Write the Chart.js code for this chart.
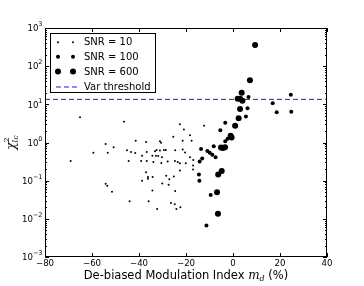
<!DOCTYPE html>
<html>
<head>
<meta charset="utf-8">
<script src="https://cdn.jsdelivr.net/npm/chart.js@4.4.1/dist/chart.umd.min.js"></script>
<style>
html,body{margin:0;padding:0;background:#fff;}
#wrap{width:364px;height:286px;}
</style>
</head>
<body>
<div id="wrap"><canvas id="chart" width="364" height="286"></canvas></div>
<script>
// values
const snr10X = [-69.1,-65.1,-59.4,-54.2,-53.3,-54.2,-53.5,-51.5,-50.8,-46.4,-45.1,-43.4,-41.6,-44.4,-44.0,
    -41.4,-38.7,-39.1,-38.7,-37.0,-36.7,-36.7,-37.0,-36.2,-36.2,-35.9,-34.3,-33.9,-34.2,-34.3,
    -33.2,-32.5,-32.8,-32.3,-31.1,-30.6,-31.1,-31.8,-30.2,-30.5,-30.1,-29.4,-28.6,-28.4,-27.8,
    -27.1,-27.4,-26.4,-25.4,-25.2,-24.8,-24.6,-24.7,-24.6,-24.1,-23.5,-22.6,-22.6,-22.6,-22.4,
    -21.4,-21.4,-20.9,-20.4,-20.1,-18.3,-17.6,-18.3,-16.9,-17.0,-17.0,-12.3];
const snr10Y = [0.33,4.6,0.54,0.91,0.54,0.083,0.074,0.051,0.75,3.5,0.63,0.56,0.53,0.33,0.029,
    1.11,0.45,0.33,0.10,1.03,0.56,0.33,0.166,0.125,0.113,0.029,0.45,0.31,0.125,0.055,
    0.59,0.64,0.45,0.018,1.08,0.99,0.62,0.44,0.41,0.29,0.084,0.64,0.64,0.135,0.32,
    0.109,0.078,0.026,1.42,0.129,0.024,0.63,0.33,0.054,0.018,0.31,3.0,0.285,0.185,0.020,
    1.11,0.66,2.2,0.55,0.285,1.55,1.11,0.41,0.35,0.25,0.196,2.76];

const snr100X = [-14.2,-13.6,-13.1,-10.9,-9.9,-8.8,-7.4,-8.2,-14.5,-14.3,-9.5,-11.3,-5.4,-3.3,-2.3,-3.3,
    16.9,24.6,18.6,24.8,6.6,6.2,5.5];
const snr100Y = [0.32,0.68,0.38,0.60,0.54,0.48,0.41,0.80,0.144,0.10,0.042,0.0067,2.09,3.3,1.26,1.08,
    10.6,17.9,6.2,6.4,15.6,7.9,4.8];

const snr600X = [9.4,7.2,3.7,2.0,3.0,4.0,3.0,2.4,0.9,-1.0,-0.6,-5.1,-4.3,-3.4,-4.8,-6.3,-6.8,-6.4];
const snr600Y = [359,43,20.2,14.1,14.1,12.4,7.5,4.3,2.76,1.51,1.35,0.74,0.72,0.75,0.18,0.144,0.05,0.0136];

const varThreshold = 13.5;
const xRange = [-80, 40];
const xTicks = [-80, -60, -40, -20, 0, 20, 40];
const yExponents = [-3, -2, -1, 0, 1, 2, 3];
const legendLabels = ["SNR = 10", "SNR = 100", "SNR = 600", "Var threshold"];

const FONT = "DejaVu Sans";
const BLUE = "#1a1aee";
const R_SMALL = 1.0, R_MED = 2.0, R_LARGE = 3.0;

function pts(xs, ys){
    return xs.map((x, i) => ({x: x, y: ys[i]}));
}

function minusSign(v){
    return v < 0 ? "\u2212" + Math.abs(v) : String(v);
}

// frame, inward ticks, log labels, axis titles and the legend
const decorations = {
    id: "decorations",
    afterDraw(chart){
        const ctx = chart.ctx;
        const a = chart.chartArea;
        const xs = chart.scales.x, ys = chart.scales.y;
        ctx.save();
        ctx.strokeStyle = "#000";
        ctx.lineWidth = 1;
        ctx.strokeRect(Math.round(a.left)+0.5, Math.round(a.top)+0.5,
            Math.round(a.right-a.left)-1, Math.round(a.bottom-a.top)-1);

        ctx.beginPath();
        xTicks.forEach(v => {
            const px = Math.round(xs.getPixelForValue(v)) + 0.5;
            ctx.moveTo(px, a.bottom); ctx.lineTo(px, a.bottom-4);
            ctx.moveTo(px, a.top); ctx.lineTo(px, a.top+4);
        });
        yExponents.forEach(e => {
            const py = Math.round(ys.getPixelForValue(Math.pow(10, e))) + 0.5;
            ctx.moveTo(a.left, py); ctx.lineTo(a.left+4, py);
            ctx.moveTo(a.right, py); ctx.lineTo(a.right-4, py);
            if(e < 3){
                for(let m = 2; m < 10; m++){
                    const my = Math.round(ys.getPixelForValue(m*Math.pow(10, e))) + 0.5;
                    ctx.moveTo(a.left, my); ctx.lineTo(a.left+2, my);
                    ctx.moveTo(a.right, my); ctx.lineTo(a.right-2, my);
                }
            }
        });
        ctx.stroke();

        // y tick labels 10^e
        ctx.fillStyle = "#000";
        ctx.textBaseline = "middle";
        ctx.textAlign = "left";
        yExponents.forEach(e => {
            const py = ys.getPixelForValue(Math.pow(10, e));
            const ex = minusSign(e);
            ctx.font = "6.5px " + FONT;
            const we = ctx.measureText(ex).width;
            ctx.font = "8.6px " + FONT;
            const wb = ctx.measureText("10").width;
            const right = a.left - 2.5;
            ctx.fillText("10", right - we - wb, py + 1);
            ctx.font = "6.5px " + FONT;
            ctx.fillText(ex, right - we, py - 3.5);
        });

        // x title
        const parts = [
            {t: "De-biased Modulation Index ", f: "11.5px " + FONT, dy: 0},
            {t: "m", f: "italic 12px DejaVu Serif", dy: 0},
            {t: "d", f: "italic 8px DejaVu Serif", dy: 2.5},
            {t: " (%)", f: "11.5px " + FONT, dy: 0}
        ];
        let total = 0;
        parts.forEach(p => { ctx.font = p.f; p.w = ctx.measureText(p.t).width; total += p.w; });
        let cx = (a.left + a.right)/2 - total/2;
        const ty = 276;
        parts.forEach(p => { ctx.font = p.f; ctx.fillText(p.t, cx, ty + p.dy); cx += p.w; });

        // y title chi^2_lc
        ctx.save();
        ctx.translate(12, (a.top + a.bottom)/2);
        ctx.rotate(-Math.PI/2);
        ctx.font = "italic 12px DejaVu Serif";
        const wc = ctx.measureText("\u03c7").width;
        ctx.font = "italic 8px DejaVu Serif";
        const wl = ctx.measureText("lc").width;
        let sx = -(wc + wl)/2;
        ctx.font = "italic 12px DejaVu Serif";
        ctx.fillText("\u03c7", sx, 0);
        ctx.font = "8px DejaVu Serif";
        ctx.fillText("2", sx + wc, -5);
        ctx.font = "italic 8px DejaVu Serif";
        ctx.fillText("lc", sx + wc, 3.5);
        ctx.restore();

        // legend
        const lx = 50.5, ly = 33.5, lw = 105, lh = 59;
        ctx.fillStyle = "#fff";
        ctx.fillRect(lx, ly, lw, lh);
        ctx.strokeStyle = "#000";
        ctx.strokeRect(lx, ly, lw, lh);
        const rows = [42.3, 56.7, 71.5, 87];
        const radii = [R_SMALL, R_MED, R_LARGE];
        ctx.fillStyle = "#000";
        for(let i = 0; i < 3; i++){
            [58, 73].forEach(mx => {
                ctx.beginPath();
                ctx.arc(mx, rows[i], radii[i], 0, Math.PI*2);
                ctx.fill();
            });
        }
        ctx.strokeStyle = BLUE;
        ctx.setLineDash([5, 3]);
        ctx.beginPath();
        ctx.moveTo(56, rows[3]); ctx.lineTo(79, rows[3]);
        ctx.stroke();
        ctx.setLineDash([]);
        ctx.fillStyle = "#000";
        ctx.font = "10px " + FONT;
        legendLabels.forEach((l, i) => ctx.fillText(l, 84, rows[i] + 0.5));
        ctx.restore();
    }
};

new Chart(document.getElementById("chart"), {
    type: "scatter",
    data: {
        datasets: [
            {label: legendLabels[0], data: pts(snr10X, snr10Y), pointRadius: R_SMALL,
             backgroundColor: "#000", borderWidth: 0, order: 3},
            {label: legendLabels[1], data: pts(snr100X, snr100Y), pointRadius: R_MED,
             backgroundColor: "#000", borderWidth: 0, order: 2},
            {label: legendLabels[2], data: pts(snr600X, snr600Y), pointRadius: R_LARGE,
             backgroundColor: "#000", borderWidth: 0, order: 1},
            {type: "line", label: legendLabels[3],
             data: xRange.map(x => ({x: x, y: varThreshold})),
             borderColor: BLUE, borderWidth: 1, borderDash: [5, 3], pointRadius: 0,
             fill: false, order: 10}
        ]
    },
    options: {
        responsive: false,
        animation: false,
        devicePixelRatio: 1,
        layout: {padding: {top: 28, right: 37, left: 0, bottom: 0}},
        plugins: {legend: {display: false}, tooltip: {enabled: false}},
        scales: {
            x: {
                type: "linear", min: xRange[0], max: xRange[1],
                afterBuildTicks: s => { s.ticks = xTicks.map(v => ({value: v})); },
                afterFit: s => { s.height = 29; },
                ticks: {callback: v => minusSign(v), color: "#000", padding: 2,
                        maxRotation: 0, autoSkip: false, font: {family: FONT, size: 8.6}},
                grid: {display: false, drawTicks: false},
                border: {display: false}
            },
            y: {
                type: "logarithmic", min: 1e-3, max: 1e3,
                afterBuildTicks: s => { s.ticks = yExponents.map(e => ({value: Math.pow(10, e)})); },
                afterFit: s => { s.width = 45; },
                ticks: {display: false},
                grid: {display: false, drawTicks: false},
                border: {display: false}
            }
        }
    },
    plugins: [decorations]
});
</script>
</body>
</html>
